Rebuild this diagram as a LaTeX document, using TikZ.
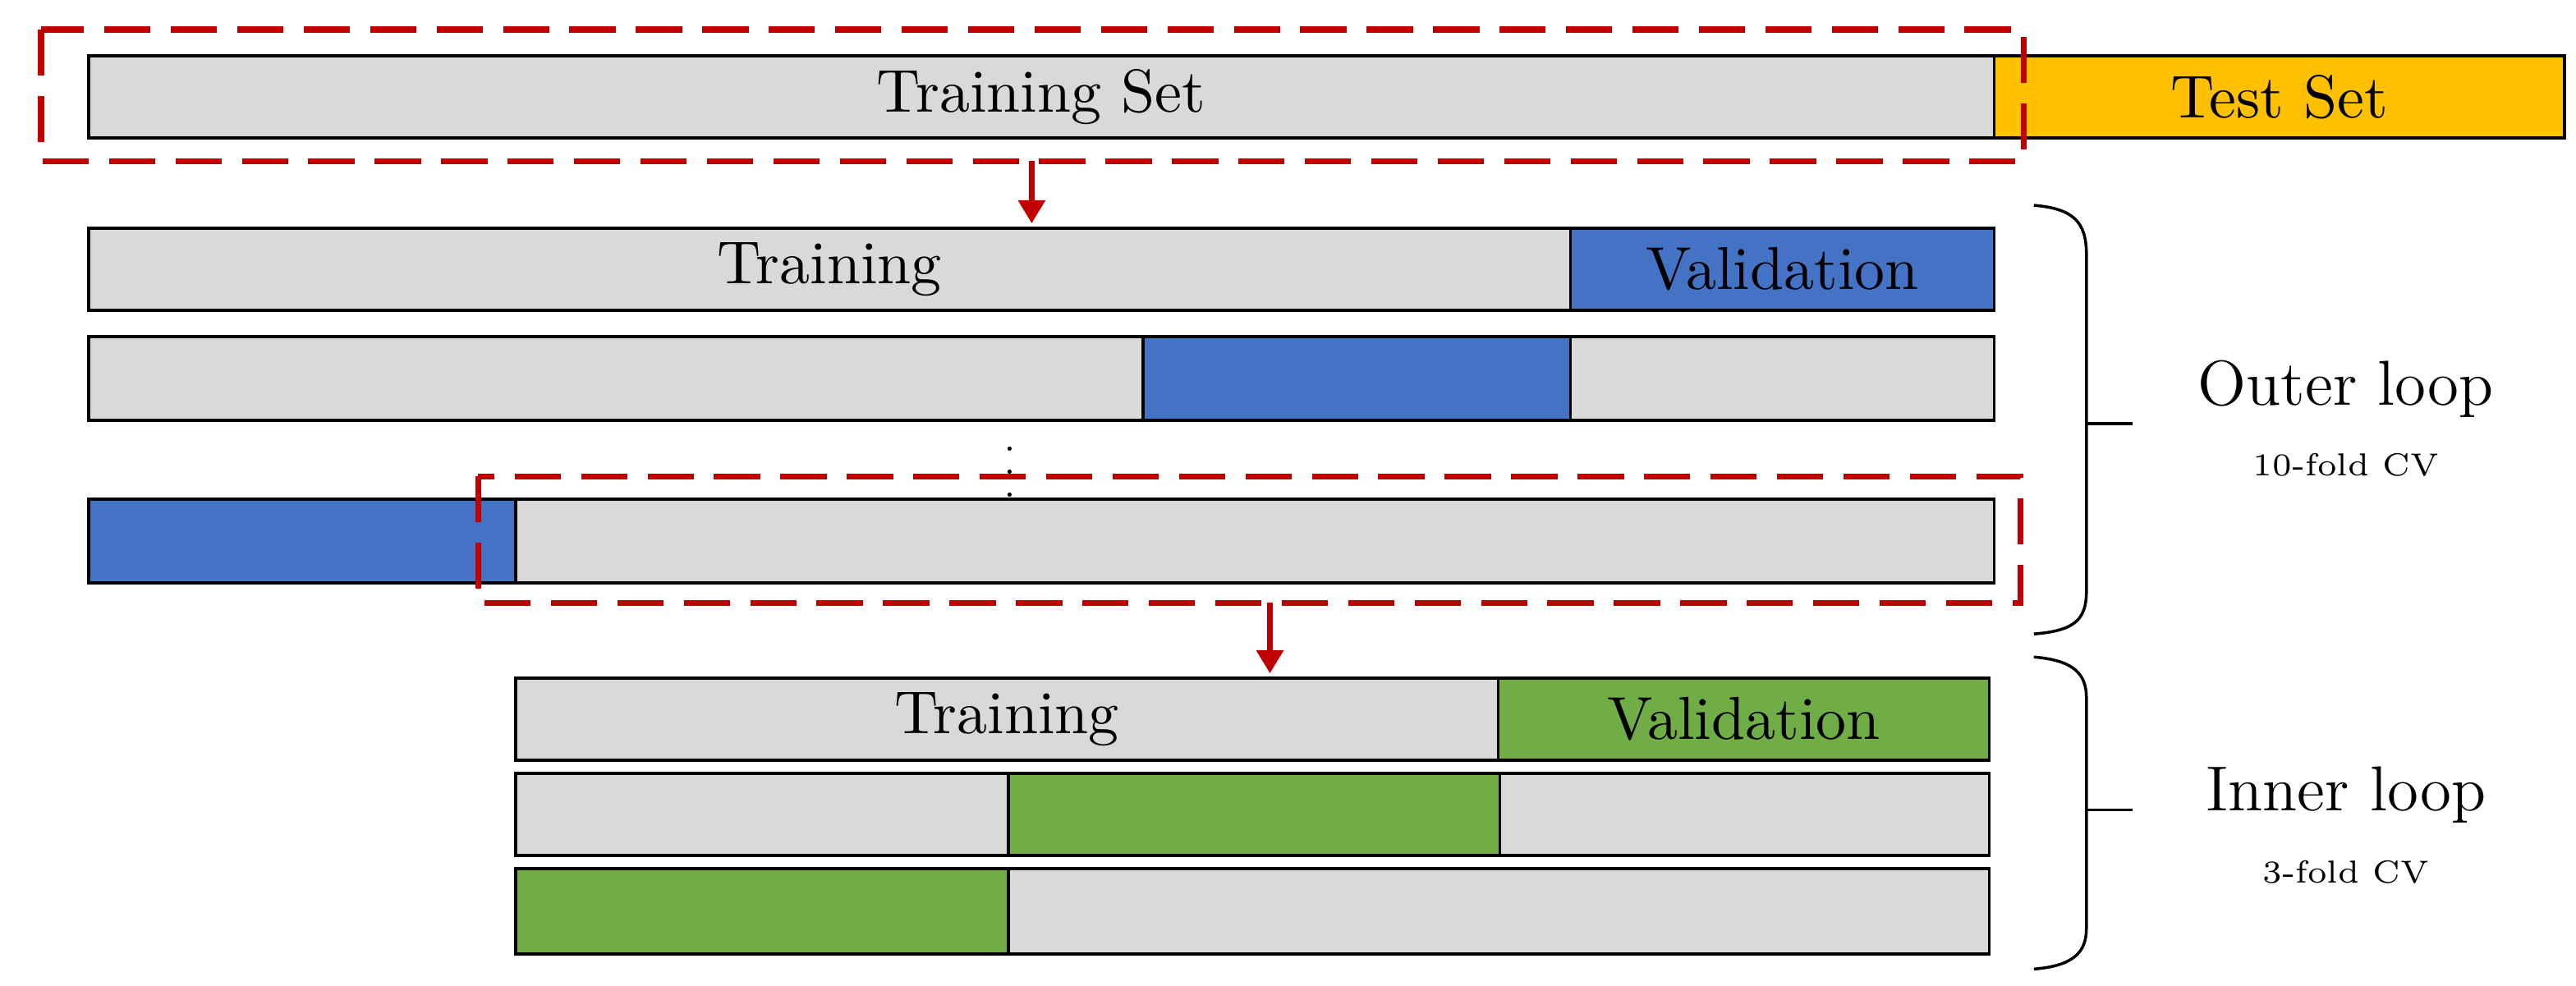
\documentclass[tikz,border=0pt]{standalone}
\usetikzlibrary{arrows.meta}
\definecolor{gr}{HTML}{D9D9D9}
\definecolor{bl}{HTML}{4472C4}
\definecolor{gn}{HTML}{70AD47}
\definecolor{yl}{HTML}{FFC000}
\definecolor{rd}{HTML}{C00000}
\begin{document}
\begin{tikzpicture}[x=0.01cm,y=-0.01cm,
  bar/.style={draw=black,line width=0.5pt,anchor=north west,inner sep=0pt,font=\fontsize{10.5}{12}\selectfont},
  redbox/.style={draw=rd,line width=1pt,dash pattern=on 8pt off 3.5pt},
  redarrow/.style={draw=rd,line width=1.1pt,-{Triangle[length=4pt,width=4.5pt]}},
  brace/.style={draw=black,line width=0.5pt},
  big/.style={font=\fontsize{11}{13}\selectfont},
  small/.style={font=\fontsize{5.5}{6.5}\selectfont}]
\useasboundingbox (0,0) rectangle (1568,600);
\newcommand{\barbox}[7]{\node[bar,fill=#6,minimum width=#4*0.01cm,minimum height=#5*0.01cm] (#1) at (#2,#3) {#7};}
% top
\barbox{ts}{53}{33}{1160}{50}{gr}{Training Set}
\barbox{te}{1213}{33}{347}{50}{yl}{Test Set}
\draw[redbox] (25,18) rectangle (1232,98);
\coordinate (a1) at (628,98); \coordinate (a1e) at (628,136);
\draw[redarrow] (a1) -- (a1e);
% outer rows
\barbox{o1a}{53}{138}{902}{50}{gr}{Training}
\barbox{o1b}{955}{138}{258}{50}{bl}{Validation}
\barbox{o2a}{53}{204}{642}{51}{gr}{}
\barbox{o2b}{695}{204}{260}{51}{bl}{}
\barbox{o2c}{955}{204}{258}{51}{gr}{}
\node[font=\fontsize{6}{7}\selectfont,inner sep=0pt] (dots) at (615,277) {$\vdots$};
\barbox{o3a}{53}{303}{260}{51}{bl}{}
\barbox{o3b}{313}{303}{900}{51}{gr}{}
\draw[redbox] (291,290) rectangle (1230,367);
\coordinate (a2) at (773,367); \coordinate (a2e) at (773,410);
\draw[redarrow] (a2) -- (a2e);
% inner rows
\barbox{i1a}{313}{412}{598}{50}{gr}{Training}
\barbox{i1b}{911}{412}{299}{50}{gn}{Validation}
\barbox{i2a}{313}{470}{300}{50}{gr}{}
\barbox{i2b}{613}{470}{299}{50}{gn}{}
\barbox{i2c}{912}{470}{298}{50}{gr}{}
\barbox{i3a}{313}{528}{300}{52}{gn}{}
\barbox{i3b}{613}{528}{597}{52}{gr}{}
% braces
\draw[brace] (1238,125) .. controls (1262,127) and (1270,135) .. (1270,155) -- (1270,360) .. controls (1270,378) and (1262,384) .. (1238,386);
\draw[brace] (1270,258) -- (1298,258);
\draw[brace] (1238,400) .. controls (1262,402) and (1270,410) .. (1270,425) -- (1270,565) .. controls (1270,580) and (1262,588) .. (1238,590);
\draw[brace] (1270,493) -- (1298,493);
\node[big] (ol) at (1428,237) {Outer loop};
\node[small] (oc) at (1428,283) {10-fold CV};
\node[big] (il) at (1428,484) {Inner loop};
\node[small] (ic) at (1428,531) {3-fold CV};
\end{tikzpicture}
\end{document}
